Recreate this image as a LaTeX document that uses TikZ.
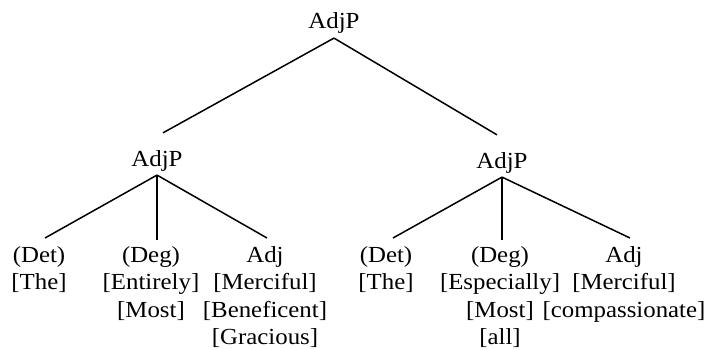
\documentclass[tikz,border=0pt]{standalone}
\usepackage{fontspec}
\setmainfont{Liberation Serif}[FakeStretch=1.08]
\begin{document}
\begin{tikzpicture}[x=1pt,y=-1pt,
  cat/.style={font=\fontsize{23}{27.5}\selectfont, inner xsep=0pt, inner ysep=4pt},
  leaf/.style={cat, align=center, anchor=north},
  branch/.style={line width=1.5pt}]
\useasboundingbox (0,0) rectangle (709,350);

% phrase-level nodes
\node[cat, anchor=base] (root) at (334,29) {AdjP};
\node[cat, anchor=base] (l) at (157,166) {AdjP};
\node[cat, anchor=base] (r) at (502,168) {AdjP};

% left subtree leaves
\node[leaf] (ldet) at (39,242) {(Det)\\{[The]}};
\node[leaf] (ldeg) at (151,242) {(Deg)\\{[Entirely]}\\{[Most]}};
\node[leaf] (ladj) at (265,242) {Adj\\{[Merciful]}\\{[Beneficent]}\\{[Gracious]}};

% right subtree leaves
\node[leaf] (rdet) at (386,242) {(Det)\\{[The]}};
\node[leaf] (rdeg) at (500,242) {(Deg)\\{[Especially]}\\{[Most]}\\{[all]}};
\node[leaf] (radj) at (624,242) {Adj\\{[Merciful]}\\{[compassionate]}};

% branches
\draw[branch] (root.south) -- ([xshift=6pt,yshift=13pt]l.north);
\draw[branch] (root.south) -- ([xshift=-5pt,yshift=13pt]r.north);

\draw[branch] (l.south) -- ([xshift=6pt,yshift=4pt]ldet.north);
\draw[branch] (l.south) -- ([yshift=2pt]l.south |- ldeg.north);
\draw[branch] (l.south) -- ([xshift=2pt,yshift=4pt]ladj.north);

\draw[branch] (r.south) -- ([xshift=7pt,yshift=4pt]rdet.north);
\draw[branch] (r.south) -- ([yshift=2pt]r.south |- rdeg.north);
\draw[branch] (r.south) -- ([xshift=6pt,yshift=4pt]radj.north);
\end{tikzpicture}
\end{document}
